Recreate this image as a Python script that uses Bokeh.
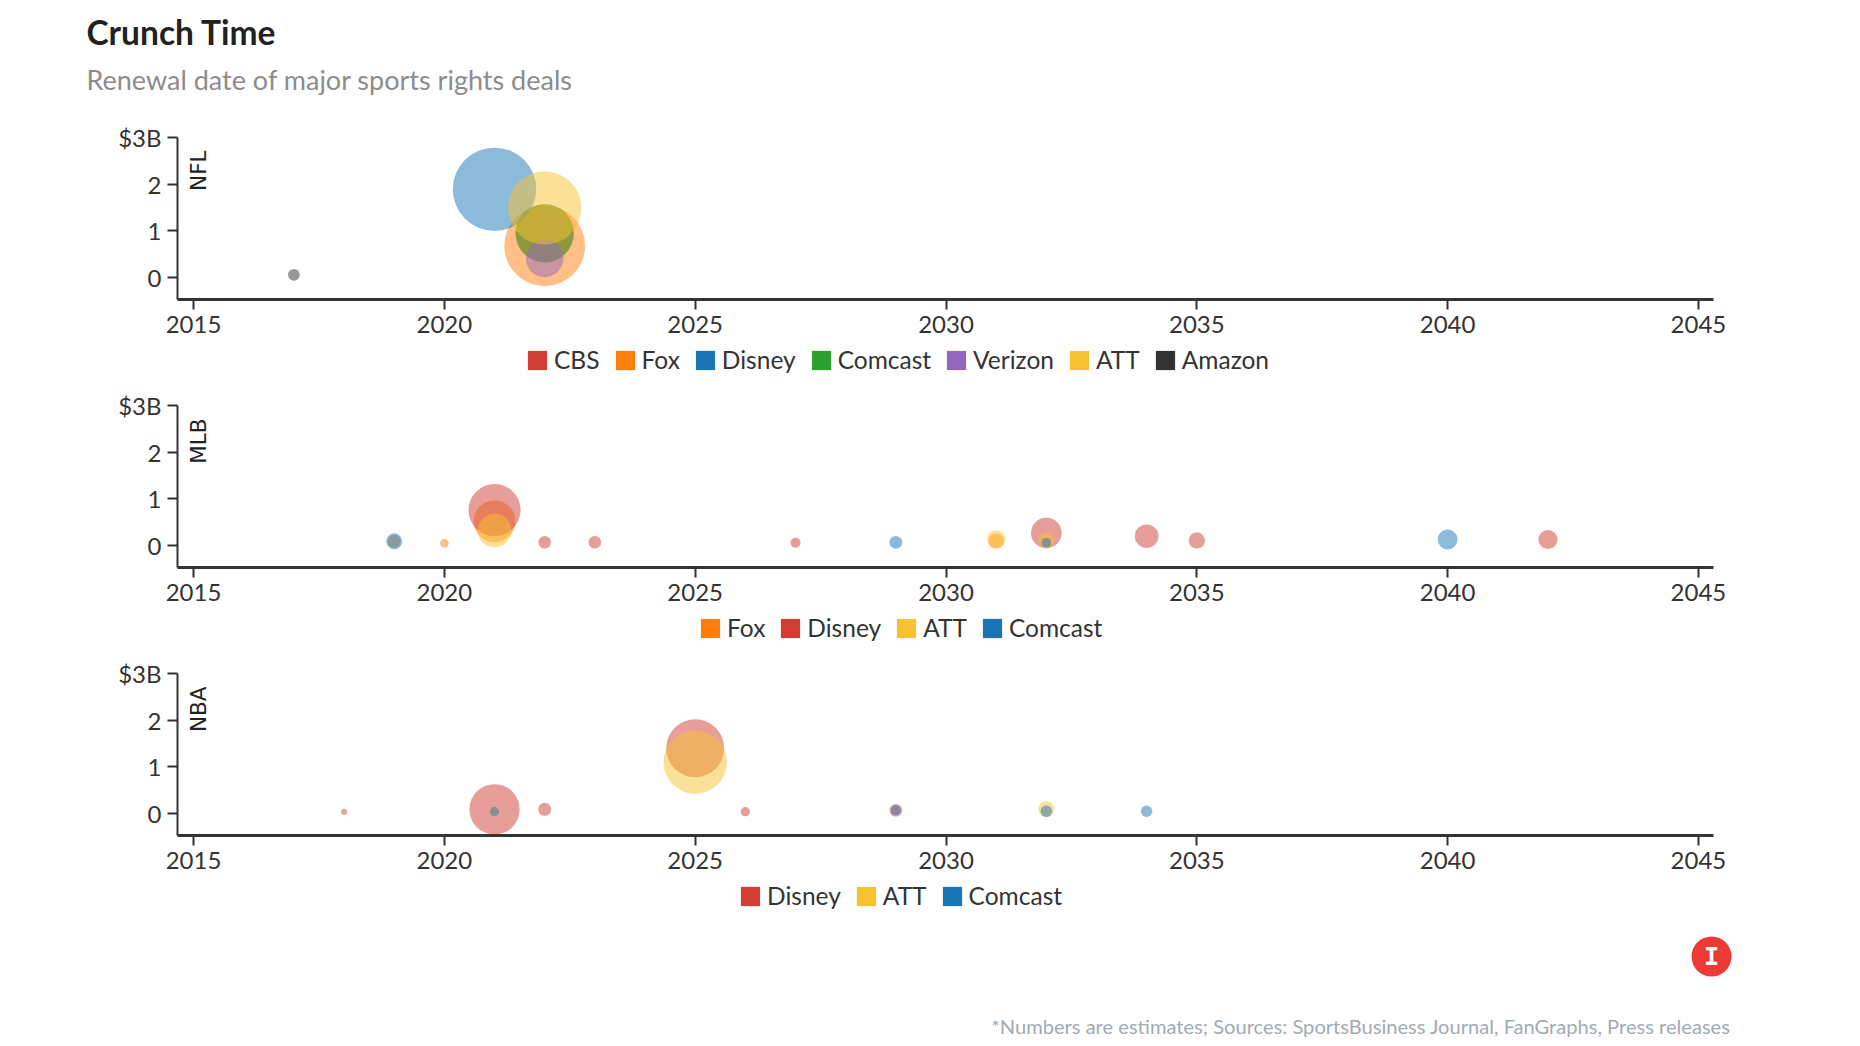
import math
from bokeh.embed import file_html
from bokeh.layouts import column, row
from bokeh.models import ColumnDataSource, FixedTicker, Label, Legend, LegendItem, Range1d
from bokeh.plotting import figure
from bokeh.resources import INLINE

TITLE = "Crunch Time"
SUBTITLE = "Renewal date of major sports rights deals"
FOOTER = "*Numbers are estimates; Sources: SportsBusiness Journal, FanGraphs, Press releases"
YEAR_TICKS = [2015, 2020, 2025, 2030, 2035, 2040, 2045]
VALUE_TICKS = [0, 1, 2, 3]

# colours per network name are per-panel, as in the source (ordinal by legend order)
NFL_COLORS = ["#cf3d33", "#ff7f0e", "#1a75b5", "#2ca02c", "#9467bd", "#f7c232", "#333333"]
MLB_COLORS = ["#ff7f0e", "#cf3d33", "#f7c232", "#1a75b5"]
NBA_COLORS = ["#cf3d33", "#f7c232", "#1a75b5"]

# (year of renewal, annual value in $B, total deal value)
nfl_cbs_years = [2022]
nfl_cbs_values = [0.95]
nfl_cbs_totals = [13.0]
nfl_fox_years = [2022]
nfl_fox_values = [0.68]
nfl_fox_totals = [25.5]
nfl_disney_years = [2021]
nfl_disney_values = [1.89]
nfl_disney_totals = [27.2]
nfl_comcast_years = [2022]
nfl_comcast_values = [0.95]
nfl_comcast_totals = [13.4]
nfl_verizon_years = [2022]
nfl_verizon_values = [0.41]
nfl_verizon_totals = [5.5]
nfl_att_years = [2022]
nfl_att_values = [1.49]
nfl_att_totals = [21.0]
nfl_amazon_years = [2017]
nfl_amazon_values = [0.06]
nfl_amazon_totals = [0.54]

mlb_fox_years = [2019, 2020, 2021, 2031]
mlb_fox_values = [0.09, 0.05, 0.52, 0.10]
mlb_fox_totals = [0.66, 0.29, 6.9, 0.88]
mlb_disney_years = [2021, 2022, 2023, 2027, 2032, 2034, 2035, 2042]
mlb_disney_values = [0.76, 0.07, 0.07, 0.06, 0.27, 0.20, 0.11, 0.13]
mlb_disney_totals = [10.6, 0.62, 0.62, 0.39, 3.66, 2.18, 1.05, 1.44]
mlb_att_years = [2021, 2031, 2032]
mlb_att_values = [0.32, 0.13, 0.11]
mlb_att_totals = [4.4, 1.35, 1.0]
mlb_comcast_years = [2019, 2029, 2032, 2040]
mlb_comcast_values = [0.09, 0.07, 0.06, 0.13]
mlb_comcast_totals = [1.0, 0.64, 0.36, 1.53]

nba_disney_years = [2018, 2021, 2022, 2025, 2026, 2029]
nba_disney_values = [0.04, 0.09, 0.09, 1.40, 0.04, 0.07]
nba_disney_totals = [0.14, 9.9, 0.66, 13.1, 0.33, 0.62]
nba_att_years = [2021, 2025, 2032]
nba_att_values = [0.04, 1.10, 0.09]
nba_att_totals = [0.33, 15.7, 1.0]
nba_comcast_years = [2021, 2029, 2032, 2034]
nba_comcast_values = [0.04, 0.07, 0.05, 0.05]
nba_comcast_totals = [0.33, 0.39, 0.51, 0.51]

NFL = [("CBS", nfl_cbs_years, nfl_cbs_values, nfl_cbs_totals),
       ("Fox", nfl_fox_years, nfl_fox_values, nfl_fox_totals),
       ("Disney", nfl_disney_years, nfl_disney_values, nfl_disney_totals),
       ("Comcast", nfl_comcast_years, nfl_comcast_values, nfl_comcast_totals),
       ("Verizon", nfl_verizon_years, nfl_verizon_values, nfl_verizon_totals),
       ("ATT", nfl_att_years, nfl_att_values, nfl_att_totals),
       ("Amazon", nfl_amazon_years, nfl_amazon_values, nfl_amazon_totals)]
MLB = [("Fox", mlb_fox_years, mlb_fox_values, mlb_fox_totals),
       ("Disney", mlb_disney_years, mlb_disney_values, mlb_disney_totals),
       ("ATT", mlb_att_years, mlb_att_values, mlb_att_totals),
       ("Comcast", mlb_comcast_years, mlb_comcast_values, mlb_comcast_totals)]
NBA = [("Disney", nba_disney_years, nba_disney_values, nba_disney_totals),
       ("ATT", nba_att_years, nba_att_values, nba_att_totals),
       ("Comcast", nba_comcast_years, nba_comcast_values, nba_comcast_totals)]

FONT = "Lato"
TICK_COLOR = "#333333"
RADIUS_PER_SQRT_TOTAL = 8.0
FRAME_W, FRAME_H = 1536, 162
LEFT_BORDER = 177
RIGHT_BORDER = 60
PAGE_W = LEFT_BORDER + FRAME_W + RIGHT_BORDER
LEGEND_H = 39


def strip(height):
    f = figure(output_backend="svg", toolbar_location=None,
               frame_width=PAGE_W, frame_height=height,
               x_range=Range1d(0, PAGE_W), y_range=Range1d(height, 0),
               x_axis_type=None, y_axis_type=None, min_border=0,
               min_border_left=0, min_border_right=0, min_border_top=0, min_border_bottom=0,
               outline_line_color=None)
    f.grid.visible = False
    return f


def panel(name, series, colors):
    p = figure(output_backend="svg", toolbar_location=None,
               frame_width=FRAME_W, frame_height=FRAME_H,
               x_range=Range1d(2014.68, 2045.3), y_range=Range1d(-0.47, 3),
               min_border_left=LEFT_BORDER, min_border_right=RIGHT_BORDER,
               min_border_top=20, min_border_bottom=47,
               outline_line_color=None)
    p.grid.visible = False
    for ax, ticks in ((p.xaxis[0], YEAR_TICKS), (p.yaxis[0], VALUE_TICKS)):
        ax.ticker = FixedTicker(ticks=ticks)
        ax.minor_tick_line_color = None
        ax.major_tick_out = 10
        ax.major_tick_in = 0
        ax.major_tick_line_color = TICK_COLOR
        ax.major_tick_line_width = 2
        ax.axis_line_color = TICK_COLOR
        ax.major_label_text_font = FONT
        ax.major_label_text_font_size = "24px"
        ax.major_label_text_color = TICK_COLOR
        ax.major_label_standoff = 6
    p.xaxis[0].axis_line_width = 3
    p.yaxis[0].axis_line_width = 2
    p.yaxis[0].major_label_overrides = {3: "$3B"}

    for (label, years, values, totals), color in zip(series, colors):
        src = ColumnDataSource(dict(
            year=years, value=values,
            diameter=[2 * RADIUS_PER_SQRT_TOTAL * math.sqrt(t) for t in totals]))
        p.scatter("year", "value", size="diameter", source=src, marker="circle",
                  fill_color=color, fill_alpha=0.5, line_color=None)
    p.add_layout(Label(x=21, y=149, x_units="screen", y_units="screen", text=name,
                       angle=math.pi / 2, text_align="right", text_baseline="middle",
                       text_font="DejaVu Sans", text_font_size="21.5px", text_color="#222222"))
    return p


def legend_strip(series, colors, legend_x):
    f = strip(LEGEND_H)
    nan = float("nan")
    items = []
    for (label, *_), color in zip(series, colors):
        key = f.quad(left=[nan], right=[nan], top=[nan], bottom=[nan],
                     fill_color=color, line_color=None)
        items.append(LegendItem(label=label, renderers=[key]))
    f.add_layout(Legend(items=items, orientation="horizontal", location=(legend_x, 11),
                        glyph_width=24, glyph_height=24, label_standoff=5, spacing=13,
                        padding=0, margin=0, border_line_color=None, background_fill_alpha=0,
                        label_text_font=FONT, label_text_font_size="24.5px",
                        label_text_color=TICK_COLOR), "center")
    return f


HEADER_H = 117
head = strip(HEADER_H)
head.add_layout(Label(x=86, y=51, text=TITLE, text_font=FONT, text_font_size="33.5px",
                      text_font_style="bold", text_color="#222222"))
head.add_layout(Label(x=86, y=95, text=SUBTITLE, text_font=FONT, text_font_size="27px",
                      text_color="#8c8c8c"))

p1 = panel("NFL", NFL, NFL_COLORS)
p2 = panel("MLB", MLB, MLB_COLORS)
p3 = panel("NBA", NBA, NBA_COLORS)
l1 = legend_strip(NFL, NFL_COLORS, 525)
l2 = legend_strip(MLB, MLB_COLORS, 698)
l3 = legend_strip(NBA, NBA_COLORS, 738)

FOOT_TOP = 921
foot = strip(116)
foot.scatter([1711], [956 - FOOT_TOP], size=40, marker="circle", fill_color="#ee3a34", line_color=None)
foot.add_layout(Label(x=1711, y=956 - FOOT_TOP, text="I", text_align="center", text_baseline="middle",
                      text_font="DejaVu Sans Mono", text_font_style="bold", text_font_size="25px",
                      text_color="white"))
foot.add_layout(Label(x=1730, y=1025 - FOOT_TOP, text=FOOTER, text_align="right", text_baseline="middle",
                      text_font=FONT, text_font_size="20.1px", text_color="#a3aab2"))

page = column(*[row(c, spacing=0) for c in (head, p1, l1, p2, l2, p3, l3, foot)], spacing=0)
open("out.html", "w").write(file_html(page, INLINE))
